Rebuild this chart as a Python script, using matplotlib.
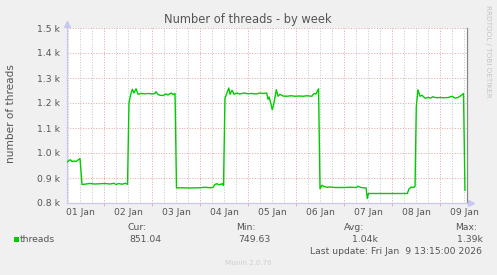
import matplotlib
matplotlib.use('Agg')
import matplotlib.pyplot as plt
import numpy as np

# time in days: 1.0 = 01 Jan 00:00
days = [0.735, 0.771, 0.80, 0.833, 0.875, 0.917, 0.958, 1.0, 1.042, 1.125, 1.208, 1.31,
        1.417, 1.52, 1.625, 1.708, 1.75, 1.81, 1.875, 1.94, 1.99, 2.02, 2.05, 2.09,
        2.125, 2.167, 2.21, 2.27, 2.354, 2.44, 2.5, 2.56, 2.583, 2.625, 2.667, 2.73,
        2.79, 2.83, 2.90, 2.94, 2.98, 3.01, 3.083, 3.29, 3.5, 3.6, 3.71, 3.77, 3.81,
        3.85, 3.9, 3.97, 3.99, 4.02, 4.06, 4.1, 4.125, 4.167, 4.21, 4.27, 4.33, 4.417,
        4.5, 4.58, 4.67, 4.75, 4.83, 4.89, 4.917, 4.94, 4.98, 5.006, 5.04, 5.09, 5.125,
        5.167, 5.23, 5.31, 5.4, 5.48, 5.56, 5.65, 5.73, 5.83, 5.875, 5.917, 5.97, 6.0,
        6.04, 6.083, 6.146, 6.21, 6.31, 6.42, 6.52, 6.625, 6.76, 6.79, 6.85, 6.96,
        6.985, 7.01, 7.25, 7.46, 7.67, 7.82, 7.85, 7.9, 7.94, 7.98, 8.006, 8.04, 8.083,
        8.125, 8.19, 8.25, 8.31, 8.35, 8.42, 8.5, 8.58, 8.67, 8.75, 8.81, 8.875, 8.94,
        8.99, 9.02]
threads = [964, 970, 973, 966, 968, 966, 972, 978, 874, 876, 878, 876,
           877, 878, 876, 879, 874, 878, 875, 879, 875, 1199, 1230, 1255,
           1240, 1257, 1235, 1238, 1237, 1238, 1236, 1238, 1245, 1234, 1231, 1230,
           1236, 1232, 1240, 1234, 1238, 860, 861, 860, 861, 863, 861, 862, 874,
           877, 873, 877, 870, 1219, 1240, 1260, 1235, 1251, 1235, 1240, 1236, 1240,
           1237, 1238, 1236, 1240, 1238, 1240, 1215, 1224, 1195, 1173, 1199, 1253, 1227,
           1235, 1228, 1227, 1229, 1227, 1228, 1227, 1229, 1227, 1238, 1236, 1257, 857,
           871, 866, 863, 864, 862, 862, 862, 863, 862, 867, 862, 860,
           818, 838, 838, 838, 838, 838, 855, 864, 862, 866, 1184, 1253, 1227,
           1231, 1219, 1222, 1220, 1225, 1221, 1222, 1221, 1222, 1227, 1220, 1222, 1230,
           1238, 851]

day_labels = ['01 Jan', '02 Jan', '03 Jan', '04 Jan', '05 Jan', '06 Jan', '07 Jan', '08 Jan', '09 Jan']
y_ticks = [800, 900, 1000, 1100, 1200, 1300, 1400, 1500]
y_labels = ['0.8 k', '0.9 k', '1.0 k', '1.1 k', '1.2 k', '1.3 k', '1.4 k', '1.5 k']
stats_head = ['Cur:', 'Min:', 'Avg:', 'Max:']
stats_vals = ['851.04', '749.63', '1.04k', '1.39k']

W, H = 497, 275
bg = '#F0F0F0'
txt = '#555555'
fig = plt.figure(figsize=(W / 100, H / 100), dpi=100, facecolor=bg)
ax = fig.add_axes([67 / W, 72 / H, 400 / W, 175 / H])
ax.set_facecolor('white')

x0, x1 = 0.729, 9.0625
ax.set_xlim(x0, x1)
ax.set_ylim(800, 1500)

# grid
dots = (0, (1, 1.6))
minor = np.arange(0.75, 9.06, 0.25)
minor = [m for m in minor if abs((m % 1) - 0.5) > 0.01]
ax.vlines(minor, 800, 1500, colors='#C8C8C8', linewidth=0.72, linestyles=[dots], zorder=1)
noon = np.arange(1.5, 9.0, 1.0)
ax.vlines(noon, 800, 1500, colors='#E0A8A8', linewidth=0.72, linestyles=[dots], zorder=1)
ax.hlines(y_ticks[1:], x0, x1, colors='#E0A8A8', linewidth=0.72, linestyles=[dots], zorder=1)

ax.plot(days, threads, color='#00CC00', linewidth=1.0, zorder=3)

ax.set_xticks(range(1, 10))
ax.set_xticklabels(day_labels)
ax.set_xticks(noon, minor=True)
ax.tick_params(axis='x', which='major', length=0, pad=3.5, labelsize=6.7, labelcolor=txt)
ax.tick_params(axis='x', which='minor', length=2, color='#E0A8A8', direction='out')
ax.set_yticks(y_ticks)
ax.set_yticklabels(y_labels)
ax.tick_params(axis='y', length=0, pad=5, labelsize=6.7, labelcolor=txt)

for s in ['top']:
    ax.spines[s].set_visible(False)
ax.spines['left'].set_color('#C8C8F0')
ax.spines['bottom'].set_color('#C8C8F0')
ax.spines['right'].set_color('#888888')
for s in ['left', 'bottom', 'right']:
    ax.spines[s].set_linewidth(0.9)

# axis arrows
ax.plot([0], [1.025], marker='^', color='#C8C8F0', markersize=4, transform=ax.transAxes, clip_on=False)
ax.plot([1.01], [0], marker='>', color='#C8C8F0', markersize=4, transform=ax.transAxes, clip_on=False)

def ftext(x, y, s, **kw):
    fig.text(x / W, 1 - y / H, s, **kw)

ftext(247.5, 20, 'Number of threads - by week', ha='center', va='center', fontsize=8.3, color=txt)
ftext(11, 114, 'number of threads', ha='center', va='center', rotation=90, fontsize=7.6, color=txt)
ftext(488, 51, 'RRDTOOL / TOBI OETIKER', ha='center', va='center', rotation=270, fontsize=5.2, color='#C4C4C4')

fig.patches.append(plt.Rectangle((14 / W, 1 - 242 / H), 5 / W, 5 / H, transform=fig.transFigure,
                                 facecolor='#00CC00', edgecolor='none'))
ftext(20, 239, 'threads', ha='left', va='center', fontsize=6.7, color=txt)

head_x = [147, 256, 364, 477]
val_x = [162, 270, 378, 483]
for hx, vx, h, v in zip(head_x, val_x, stats_head, stats_vals):
    ftext(hx, 227, h, ha='right', va='center', fontsize=6.7, color=txt)
    ftext(vx, 239, v, ha='right', va='center', fontsize=6.7, color=txt)

ftext(482, 251, 'Last update: Fri Jan  9 13:15:00 2026', ha='right', va='center', fontsize=6.7, color=txt)
ftext(248, 263, 'Munin 2.0.76', ha='center', va='center', fontsize=5.1, color='#CFCFCF')

fig.savefig('out.png', dpi=100, facecolor=bg)
